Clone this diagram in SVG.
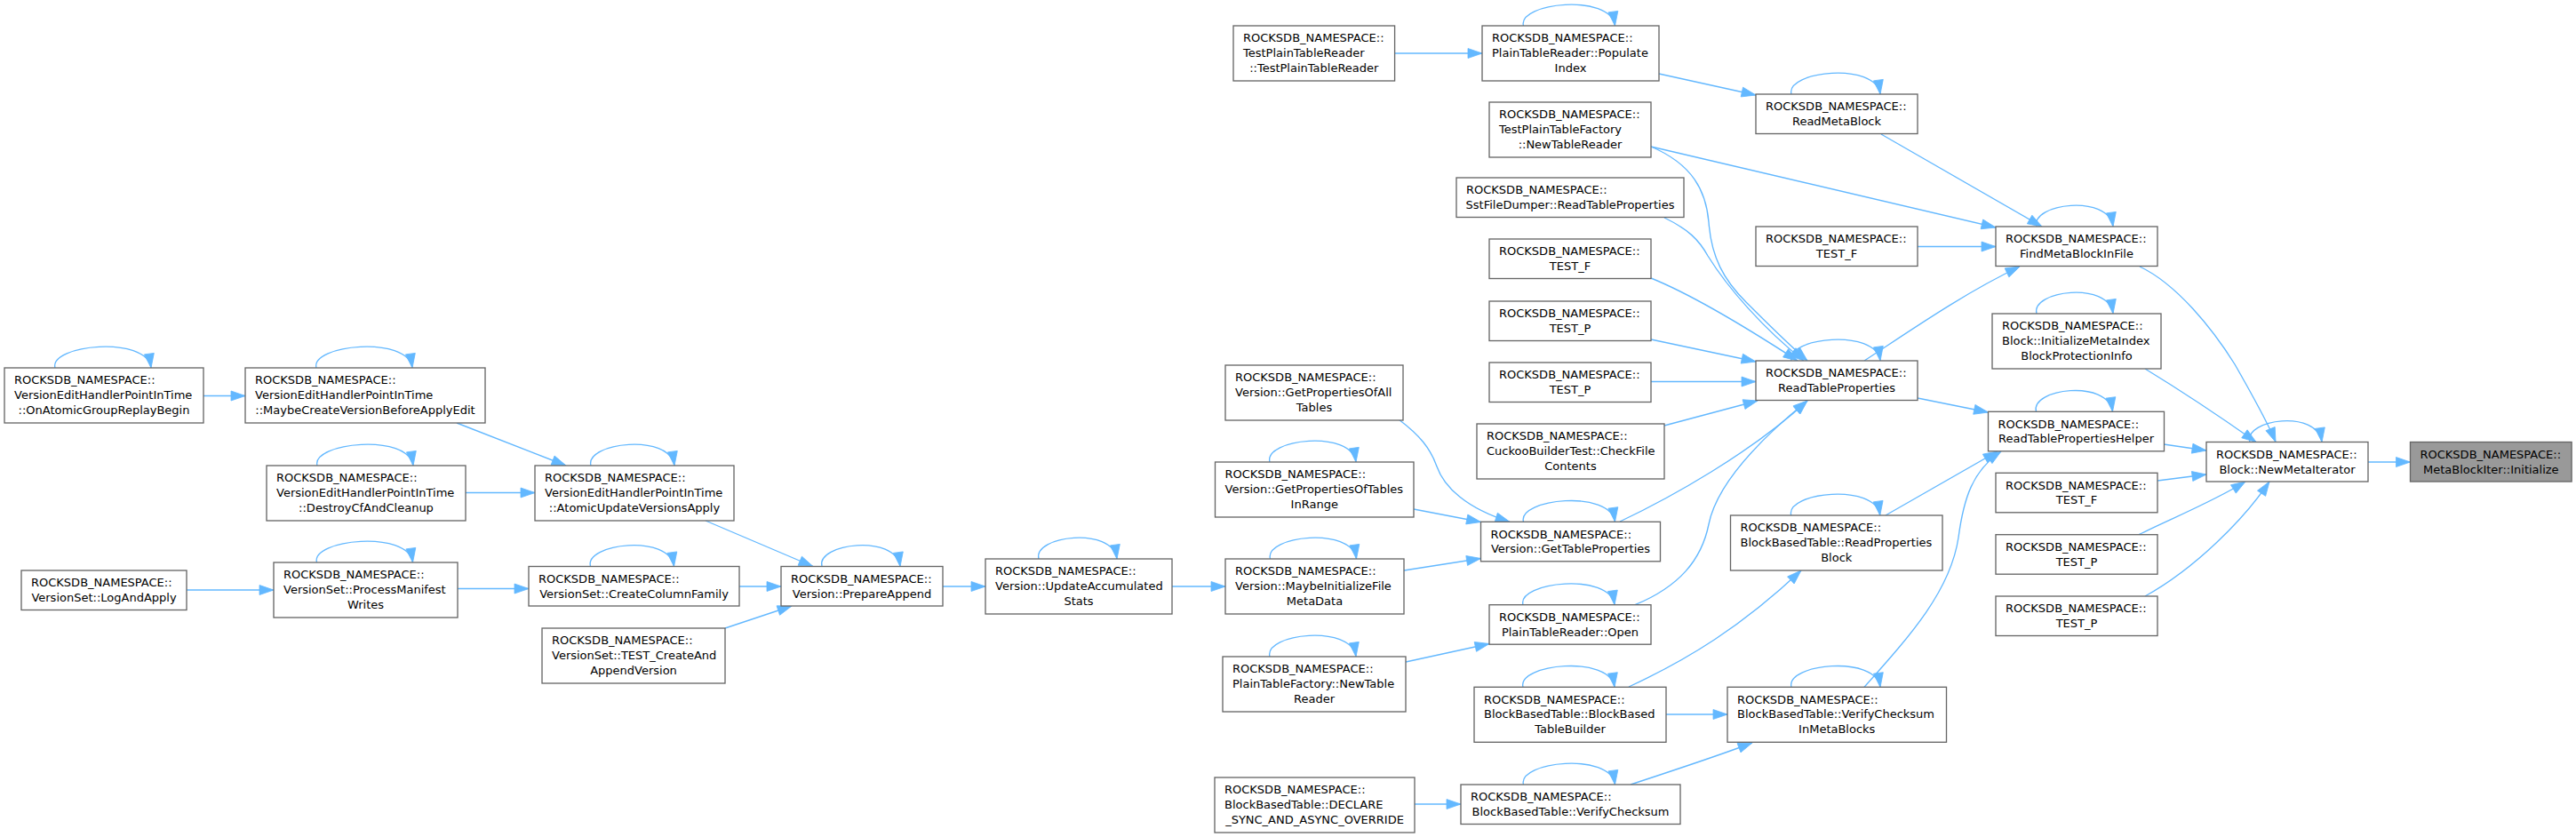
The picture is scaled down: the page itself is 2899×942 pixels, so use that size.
<svg xmlns="http://www.w3.org/2000/svg" width="2899" height="942" viewBox="0 0 2899 942">
<style>
.n rect{fill:#fff;stroke:#666;stroke-width:1.33}
.n.hl rect{fill:#999}
.n text{font-family:"DejaVu Sans",sans-serif;font-size:13px;fill:#000}
.n text.m{text-anchor:middle}
.e path{fill:none;stroke:#63b8ff;stroke-width:1.35;marker-end:url(#ah)}
</style>
<defs>
<marker id="ah" viewBox="0 0 16 11" refX="16" refY="5.5" markerUnits="userSpaceOnUse" markerWidth="16" markerHeight="11" orient="auto" overflow="visible">
<path d="M0,0 L16,5.5 L0,11 z" fill="#63b8ff" stroke="#63b8ff" stroke-width="0.8"/>
</marker>
</defs>
<rect width="2899" height="942" fill="#fff"/>
<g id="edges" class="e">
<path d="M229,445.5 L276,445.5"/>
<path d="M514,476 L637,524"/>
<path d="M524,554.5 L602,554.5"/>
<path d="M794,586 L915,637.5"/>
<path d="M210,664 L308,664"/>
<path d="M515,662.5 L595,662.5"/>
<path d="M832,660 L879,660"/>
<path d="M816,707 L891,682"/>
<path d="M1061,660 L1109,660"/>
<path d="M1319,660 L1379,660"/>
<path d="M1580,642 L1666.5,628.5"/>
<path d="M1574,472 C1598,490 1610,505 1617,525 C1625,548 1650,572 1699,587.3"/>
<path d="M1591,573 L1666.5,587.5"/>
<path d="M1582,745 L1676,724.5"/>
<path d="M1592,905 L1644,905"/>
<path d="M1570,60 L1668,60"/>
<path d="M1867,83 L1976,107"/>
<path d="M1858,165 L2246,256"/>
<path d="M1858,165 C1905,185 1920,215 1923,250 C1926,290 1940,315 1965,340 C1990,365 2010,385 2034,406"/>
<path d="M1873,245 C1900,258 1912,270 1922,288 C1945,325 1985,370 2030,406"/>
<path d="M1858,313 C1900,330 1960,365 2023,406"/>
<path d="M1858,382 L1976,407"/>
<path d="M1858,429.5 L1976,429.5"/>
<path d="M1873,479 L1978,451"/>
<path d="M1823,587 C1880,560 1970,510 2034,451"/>
<path d="M1840,680.7 C1890,660 1915,630 1923,590 C1932,545 1980,495 2034,451"/>
<path d="M1833,773 C1900,742 1960,705 2027,642"/>
<path d="M1875,804 L1944,804"/>
<path d="M1835,883 C1880,868 1930,852 1972,836"/>
<path d="M2117,151 L2298,255"/>
<path d="M2158,277.5 L2246,277.5"/>
<path d="M2098,406 C2150,372 2210,330 2273,300"/>
<path d="M2158,448 L2237.5,464"/>
<path d="M2122,580 L2248,508"/>
<path d="M2098,773.3 C2150,715 2195,665 2204,605 C2210,560 2220,530 2252,508"/>
<path d="M2408,300 C2450,320 2490,370 2515,410 C2535,445 2552,475 2561,497.5"/>
<path d="M2414,415 C2455,440 2500,470 2539,497.5"/>
<path d="M2435,500 L2483,507"/>
<path d="M2428,541 L2483,534"/>
<path d="M2407,601.7 C2440,585 2490,565 2527,542"/>
<path d="M2414,671 C2470,640 2525,585 2554,542"/>
<path d="M2665,520 L2712.5,520"/>
<path d="M62,414 C55,388 165,377 170,414"/>
<path d="M356,414 C349,388 459,377 464,414"/>
<path d="M357,524 C350,498 460,487 465,524"/>
<path d="M665,524 C658,498 754,487 759,524"/>
<path d="M356.5,633 C349.5,607 459.5,596 464.5,633"/>
<path d="M664.5,637.5 C657.5,611.5 753.5,600.5 758.5,637.5"/>
<path d="M925,637.5 C918,611.5 1008,600.5 1013,637.5"/>
<path d="M1169,629 C1162,603 1252,592 1257,629"/>
<path d="M1429,520 C1422,494 1521,483 1526,520"/>
<path d="M1429.5,629 C1422.5,603 1521.5,592 1526.5,629"/>
<path d="M1429,739 C1422,713 1521,702 1526,739"/>
<path d="M1714.5,29 C1707.5,3 1812.5,-8 1817.5,29"/>
<path d="M1714.5,587.3 C1707.5,561.3 1812.5,550.3 1817.5,587.3"/>
<path d="M1714,680.7 C1707,654.7 1812,643.7 1817,680.7"/>
<path d="M1714,773.3 C1707,747.3 1812,736.3 1817,773.3"/>
<path d="M1714.5,883 C1707.5,857 1812.5,846 1817.5,883"/>
<path d="M2016,106 C2009,80 2111,69 2116,106"/>
<path d="M2016,406 C2009,380 2111,369 2116,406"/>
<path d="M2015.75,580 C2008.75,554 2110.75,543 2115.75,580"/>
<path d="M2016,773.3 C2009,747.3 2111,736.3 2116,773.3"/>
<path d="M2292,255 C2285,229 2373,218 2378,255"/>
<path d="M2292,353 C2285,327 2373,316 2378,353"/>
<path d="M2291.5,463.3 C2284.5,437.3 2372.5,426.3 2377.5,463.3"/>
<path d="M2532,497.5 C2525,471.5 2608,460.5 2613,497.5"/>
</g>
<g id="n1" class="n"><rect x="5" y="414" width="224" height="62"/><text x="16" y="432.4">ROCKSDB_NAMESPACE::</text><text x="16" y="449.1">VersionEditHandlerPointInTime</text><text class="m" x="117" y="465.8">::OnAtomicGroupReplayBegin</text></g>
<g id="n2" class="n"><rect x="276" y="414" width="270" height="62"/><text x="287" y="432.4">ROCKSDB_NAMESPACE::</text><text x="287" y="449.1">VersionEditHandlerPointInTime</text><text class="m" x="411" y="465.8">::MaybeCreateVersionBeforeApplyEdit</text></g>
<g id="n3" class="n"><rect x="300" y="524" width="224" height="62"/><text x="311" y="542.4">ROCKSDB_NAMESPACE::</text><text x="311" y="559.1">VersionEditHandlerPointInTime</text><text class="m" x="412" y="575.8">::DestroyCfAndCleanup</text></g>
<g id="n4" class="n"><rect x="602" y="524" width="224" height="62"/><text x="613" y="542.4">ROCKSDB_NAMESPACE::</text><text x="613" y="559.1">VersionEditHandlerPointInTime</text><text class="m" x="714" y="575.8">::AtomicUpdateVersionsApply</text></g>
<g id="n5" class="n"><rect x="24" y="642" width="186" height="44.5"/><text x="35" y="660.4">ROCKSDB_NAMESPACE::</text><text class="m" x="117" y="677.1">VersionSet::LogAndApply</text></g>
<g id="n6" class="n"><rect x="308" y="633" width="207" height="62"/><text x="319" y="651.4">ROCKSDB_NAMESPACE::</text><text x="319" y="668.1">VersionSet::ProcessManifest</text><text class="m" x="411.5" y="684.8">Writes</text></g>
<g id="n7" class="n"><rect x="595" y="637.5" width="237" height="44.5"/><text x="606" y="655.9">ROCKSDB_NAMESPACE::</text><text class="m" x="713.5" y="672.6">VersionSet::CreateColumnFamily</text></g>
<g id="n8" class="n"><rect x="610" y="707" width="206" height="62"/><text x="621" y="725.4">ROCKSDB_NAMESPACE::</text><text x="621" y="742.1">VersionSet::TEST_CreateAnd</text><text class="m" x="713" y="758.8">AppendVersion</text></g>
<g id="n9" class="n"><rect x="879" y="637.5" width="182" height="44.5"/><text x="890" y="655.9">ROCKSDB_NAMESPACE::</text><text class="m" x="970" y="672.6">Version::PrepareAppend</text></g>
<g id="n10" class="n"><rect x="1109" y="629" width="210" height="62"/><text x="1120" y="647.4">ROCKSDB_NAMESPACE::</text><text x="1120" y="664.1">Version::UpdateAccumulated</text><text class="m" x="1214" y="680.8">Stats</text></g>
<g id="n11" class="n"><rect x="1379" y="629" width="201" height="62"/><text x="1390" y="647.4">ROCKSDB_NAMESPACE::</text><text x="1390" y="664.1">Version::MaybeInitializeFile</text><text class="m" x="1479.5" y="680.8">MetaData</text></g>
<g id="n12" class="n"><rect x="1379" y="411" width="200" height="62"/><text x="1390" y="429.4">ROCKSDB_NAMESPACE::</text><text x="1390" y="446.1">Version::GetPropertiesOfAll</text><text class="m" x="1479" y="462.8">Tables</text></g>
<g id="n13" class="n"><rect x="1367.5" y="520" width="223.5" height="62"/><text x="1378.5" y="538.4">ROCKSDB_NAMESPACE::</text><text x="1378.5" y="555.1">Version::GetPropertiesOfTables</text><text class="m" x="1479.25" y="571.8">InRange</text></g>
<g id="n14" class="n"><rect x="1376" y="739" width="206" height="62"/><text x="1387" y="757.4">ROCKSDB_NAMESPACE::</text><text x="1387" y="774.1">PlainTableFactory::NewTable</text><text class="m" x="1479" y="790.8">Reader</text></g>
<g id="n15" class="n"><rect x="1367" y="875" width="225" height="62"/><text x="1378" y="893.4">ROCKSDB_NAMESPACE::</text><text x="1378" y="910.1">BlockBasedTable::DECLARE</text><text class="m" x="1479.5" y="926.8">_SYNC_AND_ASYNC_OVERRIDE</text></g>
<g id="n16" class="n"><rect x="1388" y="29" width="181.6" height="62"/><text x="1399" y="47.4">ROCKSDB_NAMESPACE::</text><text x="1399" y="64.1">TestPlainTableReader</text><text class="m" x="1478.8" y="80.8">::TestPlainTableReader</text></g>
<g id="n17" class="n"><rect x="1668" y="29" width="199" height="62"/><text x="1679" y="47.4">ROCKSDB_NAMESPACE::</text><text x="1679" y="64.1">PlainTableReader::Populate</text><text class="m" x="1767.5" y="80.8">Index</text></g>
<g id="n18" class="n"><rect x="1676" y="115" width="182" height="62"/><text x="1687" y="133.4">ROCKSDB_NAMESPACE::</text><text x="1687" y="150.1">TestPlainTableFactory</text><text class="m" x="1767" y="166.8">::NewTableReader</text></g>
<g id="n19" class="n"><rect x="1639" y="200" width="256" height="44.5"/><text x="1650" y="218.4">ROCKSDB_NAMESPACE::</text><text class="m" x="1767" y="235.1">SstFileDumper::ReadTableProperties</text></g>
<g id="n20" class="n"><rect x="1676" y="269" width="182" height="44.5"/><text x="1687" y="287.4">ROCKSDB_NAMESPACE::</text><text class="m" x="1767" y="304.1">TEST_F</text></g>
<g id="n21" class="n"><rect x="1676" y="339" width="182" height="44.5"/><text x="1687" y="357.4">ROCKSDB_NAMESPACE::</text><text class="m" x="1767" y="374.1">TEST_P</text></g>
<g id="n22" class="n"><rect x="1676" y="408" width="182" height="44.5"/><text x="1687" y="426.4">ROCKSDB_NAMESPACE::</text><text class="m" x="1767" y="443.1">TEST_P</text></g>
<g id="n23" class="n"><rect x="1662" y="477" width="211" height="62"/><text x="1673" y="495.4">ROCKSDB_NAMESPACE::</text><text x="1673" y="512.1">CuckooBuilderTest::CheckFile</text><text class="m" x="1767.5" y="528.8">Contents</text></g>
<g id="n24" class="n"><rect x="1666.5" y="587.3" width="202" height="44.5"/><text x="1677.5" y="605.7">ROCKSDB_NAMESPACE::</text><text class="m" x="1767.5" y="622.4">Version::GetTableProperties</text></g>
<g id="n25" class="n"><rect x="1676" y="680.7" width="182" height="44.5"/><text x="1687" y="699.1">ROCKSDB_NAMESPACE::</text><text class="m" x="1767" y="715.8">PlainTableReader::Open</text></g>
<g id="n26" class="n"><rect x="1659" y="773.3" width="216" height="62"/><text x="1670" y="791.7">ROCKSDB_NAMESPACE::</text><text x="1670" y="808.4">BlockBasedTable::BlockBased</text><text class="m" x="1767" y="825.1">TableBuilder</text></g>
<g id="n27" class="n"><rect x="1644" y="883" width="247" height="44.5"/><text x="1655" y="901.4">ROCKSDB_NAMESPACE::</text><text class="m" x="1767.5" y="918.1">BlockBasedTable::VerifyChecksum</text></g>
<g id="n28" class="n"><rect x="1976" y="106" width="182" height="44.5"/><text x="1987" y="124.4">ROCKSDB_NAMESPACE::</text><text class="m" x="2067" y="141.1">ReadMetaBlock</text></g>
<g id="n29" class="n"><rect x="1976" y="255" width="182" height="44.5"/><text x="1987" y="273.4">ROCKSDB_NAMESPACE::</text><text class="m" x="2067" y="290.1">TEST_F</text></g>
<g id="n30" class="n"><rect x="1976" y="406" width="182" height="44.5"/><text x="1987" y="424.4">ROCKSDB_NAMESPACE::</text><text class="m" x="2067" y="441.1">ReadTableProperties</text></g>
<g id="n31" class="n"><rect x="1947.5" y="580" width="238.5" height="62"/><text x="1958.5" y="598.4">ROCKSDB_NAMESPACE::</text><text x="1958.5" y="615.1">BlockBasedTable::ReadProperties</text><text class="m" x="2066.75" y="631.8">Block</text></g>
<g id="n32" class="n"><rect x="1944" y="773.3" width="246.5" height="62"/><text x="1955" y="791.7">ROCKSDB_NAMESPACE::</text><text x="1955" y="808.4">BlockBasedTable::VerifyChecksum</text><text class="m" x="2067.25" y="825.1">InMetaBlocks</text></g>
<g id="n33" class="n"><rect x="2246" y="255" width="182" height="44.5"/><text x="2257" y="273.4">ROCKSDB_NAMESPACE::</text><text class="m" x="2337" y="290.1">FindMetaBlockInFile</text></g>
<g id="n34" class="n"><rect x="2242" y="353" width="190" height="62"/><text x="2253" y="371.4">ROCKSDB_NAMESPACE::</text><text x="2253" y="388.1">Block::InitializeMetaIndex</text><text class="m" x="2337" y="404.8">BlockProtectionInfo</text></g>
<g id="n35" class="n"><rect x="2237.5" y="463.3" width="198" height="44.5"/><text x="2248.5" y="481.7">ROCKSDB_NAMESPACE::</text><text class="m" x="2336.5" y="498.4">ReadTablePropertiesHelper</text></g>
<g id="n36" class="n"><rect x="2246" y="532.3" width="182" height="44.5"/><text x="2257" y="550.7">ROCKSDB_NAMESPACE::</text><text class="m" x="2337" y="567.4">TEST_F</text></g>
<g id="n37" class="n"><rect x="2246" y="601.7" width="182" height="44.5"/><text x="2257" y="620.1">ROCKSDB_NAMESPACE::</text><text class="m" x="2337" y="636.8">TEST_P</text></g>
<g id="n38" class="n"><rect x="2246" y="671" width="182" height="44.5"/><text x="2257" y="689.4">ROCKSDB_NAMESPACE::</text><text class="m" x="2337" y="706.1">TEST_P</text></g>
<g id="n39" class="n"><rect x="2483" y="497.5" width="182" height="44.5"/><text x="2494" y="515.9">ROCKSDB_NAMESPACE::</text><text class="m" x="2574" y="532.6">Block::NewMetaIterator</text></g>
<g id="n40" class="n hl"><rect x="2712.5" y="497.5" width="181.6" height="44.5"/><text x="2723.5" y="515.9">ROCKSDB_NAMESPACE::</text><text class="m" x="2803.3" y="532.6">MetaBlockIter::Initialize</text></g>
</svg>
